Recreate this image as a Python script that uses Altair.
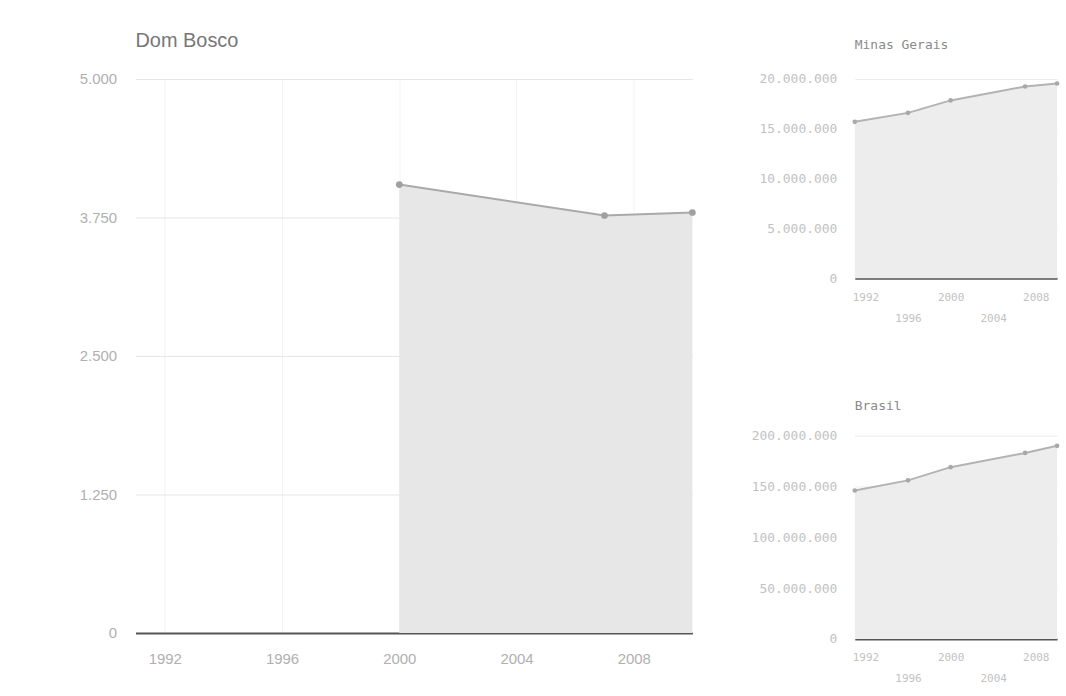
import altair as alt
import pandas as pd

# ---- data ----
db_years = [2000, 2007, 2010]
db_pop = [4047, 3768, 3795]

mg_years = [1991, 1996, 2000, 2007, 2010]
mg_pop = [15700000, 16600000, 17850000, 19250000, 19550000]

br_years = [1991, 1996, 2000, 2007, 2010]
br_pop = [146000000, 156000000, 169000000, 183000000, 190000000]

x_ticks = [1992, 1996, 2000, 2004, 2008]
db_y_ticks = [0, 1250, 2500, 3750, 5000]
mg_y_ticks = [0, 5000000, 10000000, 15000000, 20000000]
br_y_ticks = [0, 50000000, 100000000, 150000000, 200000000]

DOT_FMT = "replace(replace(replace(format(datum.value, ','), ',', '.'), ',', '.'), ',', '.')"

AREA_FILL = "#e7e7e7"
LINE_COL = "#a9a9a9"


def main_chart():
    df = pd.DataFrame({"year": db_years, "pop": db_pop})
    x = alt.X(
        "year:Q",
        title=None,
        scale=alt.Scale(domain=[1991, 2010], nice=False, zero=False),
        axis=alt.Axis(
            values=x_ticks, format="d", labelFont="Liberation Sans", labelFontSize=15,
            labelColor="#b0b0b0", labelPadding=19, ticks=False, tickSize=0,
            domainColor="#555555", domainWidth=2, grid=True, gridColor="#f3f3f3",
            labelFlush=False, labelOverlap=False,
        ),
    )
    y = alt.Y(
        "pop:Q",
        title=None,
        scale=alt.Scale(domain=[0, 5000], nice=False),
        axis=alt.Axis(
            values=db_y_ticks, labelExpr=DOT_FMT, labelFont="Liberation Sans",
            labelFontSize=15, labelColor="#b0b0b0", labelPadding=19, ticks=False,
            tickSize=0, domain=False, grid=True, gridColor="#e6e6e6",
        ),
    )
    base = alt.Chart(df)
    area = base.mark_area(color=AREA_FILL, opacity=1).encode(x=x, y=y)
    line = base.mark_line(color=LINE_COL, strokeWidth=2).encode(x=x, y=y)
    pts = base.mark_point(filled=True, color="#a0a0a0", size=45, opacity=1).encode(x=x, y=y)
    return alt.layer(area, line, pts).properties(
        width=559, height=556,
        title=alt.Title(
            "Dom Bosco", anchor="start", frame="group", font="Liberation Sans",
            fontSize=20, fontWeight="normal", color="#777777", offset=21,
        ),
    )


def small_chart(name, years, vals, ymax, yticks, height, offset, extra_line):
    df = pd.DataFrame({"year": years, "pop": vals})
    x = alt.X(
        "year:Q",
        title=None,
        scale=alt.Scale(domain=[1991, 2010], nice=False, zero=False),
        axis=alt.Axis(
            values=x_ticks, format="d",
            labelExpr="(datum.value == 1996 || datum.value == 2004) ? [' ', datum.label] : datum.label",
            labelLineHeight=21, labelFont="DejaVu Sans Mono", labelFontSize=11,
            labelColor="#c2c2c2", labelPadding=13, ticks=False, tickSize=0,
            domainColor="#555555", domainWidth=2, grid=False,
            labelFlush=False, labelOverlap=False,
        ),
    )
    y = alt.Y(
        "pop:Q",
        title=None,
        scale=alt.Scale(domain=[0, ymax], nice=False),
        axis=alt.Axis(
            values=yticks, labelExpr=DOT_FMT, labelFont="DejaVu Sans Mono",
            labelFontSize=13, labelColor="#c2c2c2", labelPadding=18, ticks=False,
            tickSize=0, domain=False, grid=True, gridColor="#ececec",
        ),
    )
    base = alt.Chart(df)
    area = base.mark_area(color="#ededed", opacity=1).encode(x=x, y=y)
    line = base.mark_line(color="#b3b3b3", strokeWidth=2).encode(x=x, y=y)
    pts = base.mark_point(filled=True, color="#a8a8a8", size=22, opacity=1).encode(x=x, y=y)
    text = [" ", name] if extra_line else name
    return alt.layer(area, line, pts).properties(
        width=203, height=height,
        title=alt.Title(
            text, anchor="start", frame="group", font="DejaVu Sans Mono", fontSize=13,
            fontWeight="normal", color="#8a8a8a", offset=offset, lineHeight=11,
        ),
    )


mg = small_chart("Minas Gerais", mg_years, mg_pop, 20000000, mg_y_ticks, 200, 21, True)
br = small_chart("Brasil", br_years, br_pop, 200000000, br_y_ticks, 204, 17, False)

right = alt.vconcat(mg, br, spacing=77)
chart = alt.hconcat(main_chart(), right, spacing=54).properties(
    padding={"left": 79, "top": 27, "right": 5, "bottom": 5},
    background="white",
).configure_view(stroke=None)

chart.save("out.html", embed_options={"renderer": "svg", "actions": False})
